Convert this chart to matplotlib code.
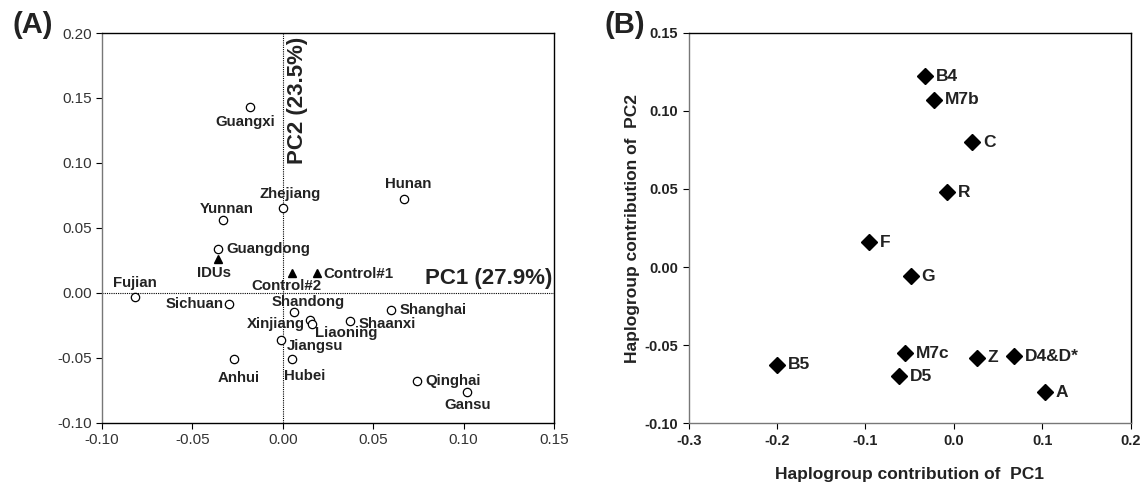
import matplotlib
matplotlib.use("Agg")
import matplotlib.pyplot as plt

plt.rcParams['font.family'] = ['Liberation Sans', 'DejaVu Sans']

# Panel A: population PCA scores
pop_names = ['Guangxi', 'Zhejiang', 'Yunnan', 'Hunan', 'Guangdong', 'Fujian', 'Sichuan',
             'Shandong', 'Xinjiang', 'Liaoning', 'Shaanxi', 'Shanghai', 'Jiangsu',
             'Anhui', 'Hubei', 'Qinghai', 'Gansu']
pop_pc1 = [-0.018, 0.000, -0.033, 0.067, -0.036, -0.082, -0.030,
           0.006, 0.015, 0.016, 0.037, 0.060, -0.001,
           -0.027, 0.005, 0.074, 0.102]
pop_pc2 = [0.143, 0.065, 0.056, 0.072, 0.034, -0.0035, -0.009,
           -0.015, -0.021, -0.024, -0.022, -0.013, -0.036,
           -0.051, -0.051, -0.068, -0.076]

grp_names = ['IDUs', 'Control#2', 'Control#1']
grp_pc1 = [-0.036, 0.005, 0.019]
grp_pc2 = [0.026, 0.015, 0.015]

# Panel B: haplogroup contributions
hap_names = ['B4', 'M7b', 'C', 'R', 'F', 'G', 'M7c', 'D5', 'Z', 'D4&D*', 'A', 'B5']
hap_pc1 = [-0.033, -0.023, 0.021, -0.0075, -0.096, -0.049, -0.055, -0.062, 0.026, 0.068, 0.103, -0.200]
hap_pc2 = [0.122, 0.107, 0.080, 0.048, 0.016, -0.006, -0.055, -0.070, -0.058, -0.057, -0.080, -0.0625]

fig = plt.figure(figsize=(11.48, 4.84), dpi=100)

# ---------------- panel A ----------------
ax1 = fig.add_axes([0.0889, 0.1267, 0.3937, 0.805])
ax1.axvline(0, color='black', lw=0.8, ls=(0, (1, 1)), zorder=1)
ax1.axhline(0, color='black', lw=0.8, ls=(0, (1, 1)), zorder=1)
ax1.plot(pop_pc1, pop_pc2, 'o', ms=6, mfc='white', mec='black', mew=0.9, zorder=3)
ax1.plot(grp_pc1, grp_pc2, '^', ms=6, color='black', zorder=3)

# label offsets in pixels (dx, dy, ha)
pop_off = {
    'Guangxi': (-5, -15, 'center'), 'Zhejiang': (7, 14, 'center'), 'Yunnan': (4, 11, 'center'),
    'Hunan': (4, 15, 'center'), 'Guangdong': (9, 0, 'left'), 'Fujian': (0, 14, 'center'),
    'Sichuan': (-5, 0, 'right'), 'Shandong': (14, 10, 'center'), 'Xinjiang': (-5, -4, 'right'),
    'Liaoning': (3, -9.5, 'left'), 'Shaanxi': (8.5, -3, 'left'), 'Shanghai': (8.5, 0, 'left'),
    'Jiangsu': (5.5, -6.5, 'left'), 'Anhui': (5, -18.5, 'center'), 'Hubei': (13, -17, 'center'),
    'Qinghai': (9, 0, 'left'), 'Gansu': (0, -13, 'center'),
}
for n, x, y in zip(pop_names, pop_pc1, pop_pc2):
    dx, dy, ha = pop_off[n]
    ax1.annotate(n, (x, y), xytext=(dx, dy), textcoords='offset pixels',
                 ha=ha, va='center', fontsize=10.8, fontweight='bold', color='#222222')
grp_off = {'IDUs': (-4, -14, 'center'), 'Control#2': (-5, -13, 'center'), 'Control#1': (6.5, -1, 'left')}
for n, x, y in zip(grp_names, grp_pc1, grp_pc2):
    dx, dy, ha = grp_off[n]
    ax1.annotate(n, (x, y), xytext=(dx, dy), textcoords='offset pixels',
                 ha=ha, va='center', fontsize=10.8, fontweight='bold', color='#222222')

ax1.text(0.149, 0.003, 'PC1 (27.9%)', ha='right', va='bottom', fontsize=16, fontweight='bold', color='#222222')
ax1.text(0.0025, 0.197, 'PC2 (23.5%)', rotation=90, ha='left', va='top', fontsize=16, fontweight='bold', color='#222222')

ax1.set_xlim(-0.10, 0.15)
ax1.set_ylim(-0.10, 0.20)
ax1.set_xticks([-0.10, -0.05, 0.00, 0.05, 0.10, 0.15])
ax1.set_yticks([-0.10, -0.05, 0.00, 0.05, 0.10, 0.15, 0.20])
ax1.set_xticklabels(['-0.10', '-0.05', '0.00', '0.05', '0.10', '0.15'])
ax1.set_yticklabels(['-0.10', '-0.05', '0.00', '0.05', '0.10', '0.15', '0.20'])
ax1.tick_params(direction='out', length=4, width=0.8, labelsize=11, labelcolor='#333333')
for s in ax1.spines.values():
    s.set_linewidth(1.0)
ax1.spines['left'].set_color('#777777')

# ---------------- panel B ----------------
ax2 = fig.add_axes([0.5999, 0.1254, 0.385, 0.807])
ax2.plot(hap_pc1, hap_pc2, 'D', ms=8, color='black', zorder=3)
for n, x, y in zip(hap_names, hap_pc1, hap_pc2):
    ax2.annotate(n, (x, y), xytext=(11, 0), textcoords='offset pixels',
                 ha='left', va='center', fontsize=12.5, fontweight='bold', color='#222222')

ax2.set_xlim(-0.3, 0.2)
ax2.set_ylim(-0.10, 0.15)
ax2.set_xticks([-0.3, -0.2, -0.1, 0.0, 0.1, 0.2])
ax2.set_xticklabels(['-0.3', '-0.2', '-0.1', '0.0', '0.1', '0.2'])
ax2.set_yticks([-0.10, -0.05, 0.00, 0.05, 0.10, 0.15])
ax2.set_yticklabels(['-0.10', '-0.05', '0.00', '0.05', '0.10', '0.15'])
ax2.tick_params(direction='out', length=4, width=0.8, labelsize=10.5, labelcolor='#222222')
for lab in ax2.get_xticklabels() + ax2.get_yticklabels():
    lab.set_fontweight('bold')
ax2.set_xlabel('Haplogroup contribution of  PC1', fontsize=12.5, fontweight='bold', color='#222222', labelpad=14)
ax2.set_ylabel('Haplogroup contribution of  PC2', fontsize=12.5, fontweight='bold', color='#222222', labelpad=3)
for s in ax2.spines.values():
    s.set_linewidth(1.0)
ax2.spines['left'].set_color('#777777')
ax2.spines['bottom'].set_color('#777777')

fig.text(12 / 1148, 1 - 25 / 484, '(A)', fontsize=21, fontweight='bold', va='center', ha='left', color='#222222')
fig.text(604 / 1148, 1 - 25 / 484, '(B)', fontsize=21, fontweight='bold', va='center', ha='left', color='#222222')

fig.savefig('out.png', dpi=100)
